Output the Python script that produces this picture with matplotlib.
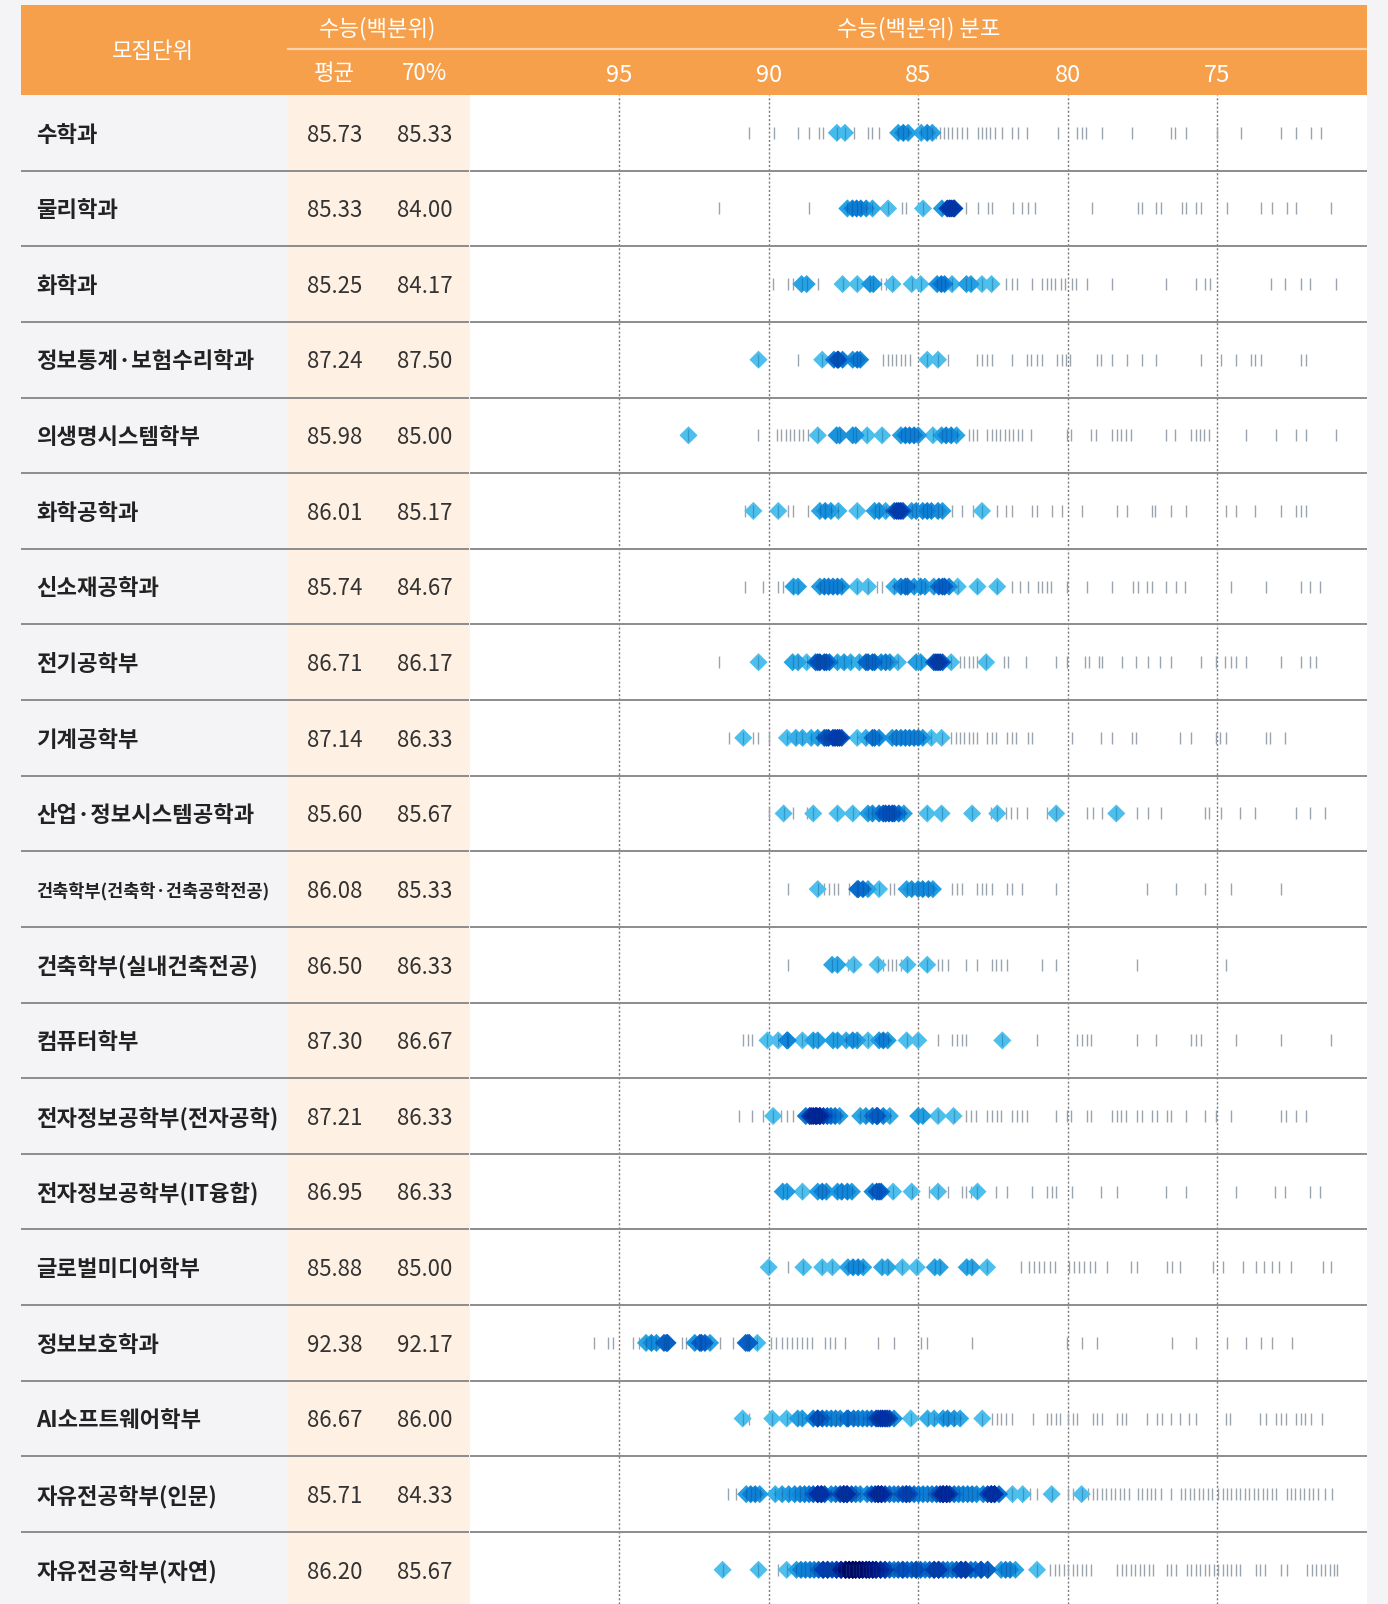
import numpy as np
import matplotlib
matplotlib.use("Agg")
import matplotlib.pyplot as plt

plt.rcParams["font.family"] = ["Noto Sans CJK KR", "DejaVu Sans"]

# ---- table data ----
departments = ["수학과", "물리학과", "화학과", "정보통계·보험수리학과", "의생명시스템학부",
               "화학공학과", "신소재공학과", "전기공학부", "기계공학부", "산업·정보시스템공학과",
               "건축학부(건축학·건축공학전공)", "건축학부(실내건축전공)", "컴퓨터학부",
               "전자정보공학부(전자공학)", "전자정보공학부(IT융합)", "글로벌미디어학부",
               "정보보호학과", "AI소프트웨어학부", "자유전공학부(인문)", "자유전공학부(자연)"]
mean_scores = [85.73, 85.33, 85.25, 87.24, 85.98, 86.01, 85.74, 86.71, 87.14, 85.60,
               86.08, 86.50, 87.30, 87.21, 86.95, 85.88, 92.38, 86.67, 85.71, 86.20]
p70_scores = [85.33, 84.00, 84.17, 87.50, 85.00, 85.17, 84.67, 86.17, 86.33, 85.67,
              85.33, 86.33, 86.67, 86.33, 86.33, 85.00, 92.17, 86.00, 84.33, 85.67]
axis_ticks = [95, 90, 85, 80, 75]

# ---- distribution: accepted (diamond) and other applicants (tick) ----
math_acc = [87.72, 87.45, 85.67, 85.50, 85.34, 84.90, 84.70, 84.53]
math_rej = [90.65, 89.83, 89.02, 88.66, 88.33, 88.17, 87.16, 86.67, 86.53, 86.32, 84.42, 84.28,
            84.14, 84.00, 83.86, 83.72, 83.55, 83.38, 83.01, 82.87, 82.73, 82.59, 82.45, 82.20,
            81.86, 81.68, 81.36, 80.34, 79.68, 79.54, 79.39, 78.85, 77.84, 76.55, 76.41, 76.04,
            75.00, 74.20, 72.86, 72.37, 71.88, 71.54]
phys_acc = [87.37, 87.20, 87.06, 86.92, 86.74, 86.53, 86.01, 84.84, 84.21, 84.03, 83.96, 83.90,
            83.83, 83.79]
phys_rej = [91.66, 88.66, 85.54, 85.40, 83.39, 83.01, 82.66, 82.52, 81.82, 81.54, 81.33, 81.09,
            79.19, 77.67, 77.53, 77.04, 76.87, 76.20, 76.06, 75.70, 75.56, 74.69, 73.53, 73.17,
            72.68, 72.36, 71.21]
chem_acc = [88.90, 88.73, 87.53, 87.04, 86.61, 86.50, 85.86, 85.22, 84.92, 84.37, 84.23, 84.12,
            83.87, 83.39, 83.24, 82.87, 82.55]
chem_rej = [89.85, 89.36, 89.20, 88.35, 86.24, 86.09, 82.07, 81.85, 81.70, 81.19, 80.85, 80.71,
            80.56, 80.42, 80.24, 80.09, 79.85, 79.73, 79.36, 78.53, 76.73, 75.73, 75.41, 75.24,
            73.22, 72.73, 72.22, 71.90, 71.05]
stat_acc = [90.34, 88.21, 87.82, 87.70, 87.67, 87.53, 87.19, 87.04, 86.94, 84.70, 84.34]
stat_rej = [89.02, 86.17, 86.02, 85.87, 85.73, 85.58, 85.43, 85.29, 84.02, 83.02, 82.87, 82.70,
            82.55, 81.88, 81.37, 81.22, 81.04, 80.87, 80.36, 80.21, 80.06, 79.92, 79.04, 78.89,
            78.53, 78.02, 77.53, 77.06, 75.56, 74.87, 74.39, 73.87, 73.73, 73.55, 72.19, 72.05]
bio_acc = [92.68, 88.36, 87.73, 87.63, 87.19, 87.09, 86.71, 86.21, 85.58, 85.43, 85.29, 85.14,
           85.00, 84.51, 84.22, 84.07, 83.90, 83.72]
bio_rej = [90.37, 89.72, 89.58, 89.43, 89.28, 89.14, 88.99, 88.84, 88.70, 83.31, 83.17, 83.02,
           82.70, 82.55, 82.41, 82.26, 82.11, 81.97, 81.82, 81.67, 81.53, 81.22, 80.02, 79.90,
           79.22, 79.07, 78.51, 78.37, 78.22, 78.07, 77.90, 76.73, 76.41, 75.88, 75.73, 75.59,
           75.44, 75.27, 74.05, 73.04, 72.38, 72.05, 71.05]
cheng_acc = [90.51, 89.68, 88.29, 88.11, 87.92, 87.67, 87.04, 86.46, 86.31, 86.09, 85.80, 85.72,
             85.65, 85.58, 85.51, 85.22, 85.07, 84.85, 84.70, 84.56, 84.34, 84.19, 82.87]
cheng_rej = [90.80, 89.34, 89.20, 88.68, 83.87, 83.53, 83.17, 82.36, 82.07, 81.88, 81.19, 81.04,
             80.53, 80.21, 79.54, 78.37, 78.02, 77.20, 77.09, 76.55, 76.04, 74.72, 74.39, 73.73,
             72.88, 72.37, 72.22, 72.05]
mat_acc = [89.17, 89.02, 88.29, 88.14, 88.00, 87.85, 87.70, 87.56, 87.04, 86.68, 85.80, 85.58,
           85.43, 85.36, 85.14, 84.92, 84.78, 84.48, 84.31, 84.19, 84.12, 83.97, 83.68, 83.02, 82.36]
mat_rej = [90.80, 90.19, 89.68, 89.53, 86.39, 86.21, 81.85, 81.59, 81.34, 81.00, 80.85, 80.71,
           80.56, 80.02, 79.36, 78.51, 77.83, 77.65, 77.34, 77.20, 76.73, 76.39, 76.07, 74.56,
           73.39, 72.22, 71.90, 71.56]
elec_acc = [90.34, 89.20, 89.02, 88.73, 88.43, 88.36, 88.29, 88.14, 88.07, 87.97, 87.70, 87.48,
            87.26, 86.97, 86.75, 86.68, 86.53, 86.46, 86.24, 86.09, 85.95, 85.68, 85.07, 84.92,
            84.48, 84.41, 84.34, 84.27, 84.19, 83.90, 82.73]
elec_rej = [91.65, 83.61, 83.46, 83.31, 83.17, 83.02, 82.14, 82.00, 81.41, 80.39, 80.02, 79.44,
            79.29, 78.95, 78.85, 78.19, 77.71, 77.31, 76.92, 76.55, 75.56, 75.05, 74.75, 74.53,
            74.39, 74.05, 72.88, 72.22, 71.90, 71.71]
mech_acc = [90.85, 89.39, 89.09, 88.87, 88.58, 88.36, 88.14, 88.07, 88.00, 87.85, 87.78, 87.70,
            87.63, 87.56, 87.04, 86.75, 86.53, 86.46, 86.31, 85.87, 85.73, 85.58, 85.43, 85.29,
            85.14, 85.00, 84.85, 84.56, 84.22]
mech_rej = [91.33, 90.51, 90.37, 90.00, 83.90, 83.75, 83.61, 83.46, 83.31, 83.17, 83.02, 82.70,
            82.55, 82.41, 82.03, 81.88, 81.73, 81.34, 81.19, 79.87, 78.88, 78.53, 77.86, 77.71,
            76.24, 75.89, 75.05, 74.90, 74.72, 73.39, 73.25, 72.73]
ind_acc = [89.50, 88.51, 87.70, 87.19, 86.68, 86.53, 86.31, 86.17, 86.09, 85.98, 85.87, 85.80,
           85.65, 85.48, 84.70, 84.22, 83.20, 82.36, 80.39, 78.38]
ind_rej = [90.00, 89.20, 88.73, 82.58, 82.07, 81.89, 81.70, 81.37, 80.68, 79.36, 79.17, 78.85,
           77.68, 77.31, 76.90, 75.41, 75.27, 74.87, 74.24, 73.76, 72.38, 71.90, 71.39]
arch_acc = [88.36, 87.04, 87.00, 86.85, 86.68, 86.31, 85.39, 85.22, 85.00, 84.85, 84.66, 84.51]
arch_rej = [89.36, 88.14, 87.97, 87.82, 87.67, 87.30, 85.95, 85.80, 83.87, 83.72, 83.53, 83.02,
            82.87, 82.73, 82.55, 82.03, 81.85, 81.53, 80.39, 77.34, 76.39, 75.41, 74.56, 72.88]
intr_acc = [87.88, 87.70, 87.16, 86.36, 85.36, 84.70]
intr_rej = [89.36, 87.34, 86.17, 86.02, 85.87, 85.73, 85.58, 84.34, 84.19, 84.02, 83.39, 83.02,
            82.55, 82.41, 82.22, 82.04, 80.87, 80.39, 77.68, 74.72]
comp_acc = [90.04, 89.68, 89.39, 89.36, 88.87, 88.51, 88.36, 87.85, 87.70, 87.41, 87.19, 87.04,
            86.68, 86.31, 86.17, 86.02, 85.39, 85.00, 82.19]
comp_rej = [90.85, 90.70, 90.56, 84.34, 83.87, 83.72, 83.53, 83.39, 81.02, 79.70, 79.54, 79.36,
            79.22, 77.68, 77.06, 75.88, 75.73, 75.56, 74.39, 72.88, 71.21]
ee_acc = [89.85, 88.76, 88.63, 88.58, 88.51, 88.43, 88.39, 88.29, 88.29, 88.17, 88.04, 87.92,
          87.78, 87.63, 86.94, 86.75, 86.53, 86.39, 86.36, 86.17, 85.95, 85.00, 84.85, 84.34, 83.82]
ee_rej = [90.99, 90.56, 90.19, 89.58, 89.39, 89.20, 83.39, 83.24, 83.06, 82.70, 82.55, 82.36,
          82.22, 81.85, 81.70, 81.53, 81.37, 80.39, 80.02, 79.90, 79.36, 79.22, 78.51, 78.37,
          78.22, 78.05, 77.68, 77.53, 77.17, 77.02, 76.70, 76.55, 76.04, 75.41, 75.05, 74.56,
          72.88, 72.70, 72.37, 72.05]
it_acc = [89.53, 89.39, 88.87, 88.36, 88.21, 88.07, 87.70, 87.56, 87.37, 87.22, 86.53, 86.39,
          86.31, 86.24, 85.84, 85.22, 84.34, 83.02]
it_rej = [84.63, 84.02, 83.53, 83.39, 83.24, 82.41, 82.04, 81.19, 80.71, 80.53, 80.39, 79.87,
          78.88, 78.37, 76.73, 76.04, 74.39, 73.07, 72.73, 71.90, 71.56]
media_acc = [90.00, 88.84, 88.21, 87.87, 87.35, 87.18, 87.01, 86.84, 86.21, 86.02, 85.53, 85.05,
             84.45, 84.28, 83.38, 83.21, 82.70]
media_rej = [89.35, 81.55, 81.30, 81.13, 80.96, 80.78, 80.61, 80.44, 79.97, 79.80, 79.62, 79.45,
             79.25, 79.08, 78.70, 77.88, 77.68, 76.69, 76.52, 76.26, 75.15, 74.81, 74.16, 73.70,
             73.45, 73.19, 72.94, 72.54, 71.48, 71.19]
sec_acc = [94.10, 93.92, 93.75, 93.50, 93.42, 93.38, 92.47, 92.30, 92.25, 92.13, 91.96, 90.77,
           90.70, 90.65, 90.38]
sec_rej = [95.84, 95.38, 95.20, 94.52, 94.35, 92.90, 92.75, 91.62, 91.20, 89.91, 89.74, 89.57,
           89.40, 89.23, 89.06, 88.89, 88.72, 88.55, 88.12, 87.95, 87.78, 87.44, 86.33, 85.82,
           84.91, 84.71, 83.21, 80.02, 79.51, 79.04, 76.52, 75.70, 74.68, 74.04, 73.53, 73.19, 72.51]
ai_acc = [90.87, 89.88, 89.40, 89.03, 88.88, 88.51, 88.36, 88.36, 88.21, 88.06, 87.91, 87.76,
          87.61, 87.38, 87.34, 87.16, 87.01, 86.86, 86.71, 86.56, 86.41, 86.34, 86.26, 86.19,
          86.11, 86.04, 85.96, 85.81, 85.25, 84.69, 84.47, 84.17, 84.02, 83.80, 83.60, 82.86]
ai_rej = [90.67, 82.53, 82.38, 82.23, 82.08, 81.85, 81.18, 80.70, 80.55, 80.40, 80.25, 79.99,
          79.84, 79.69, 79.16, 79.01, 78.86, 78.34, 78.19, 78.04, 77.37, 77.03, 76.85, 76.55,
          76.25, 75.95, 75.70, 74.72, 74.57, 73.56, 73.38, 73.03, 72.88, 72.71, 72.36, 72.21,
          72.06, 71.88, 71.51]
libh_acc = [90.75, 90.60, 90.45, 90.30, 89.78, 89.55, 89.33, 89.13, 88.95, 88.80, 88.65, 88.51,
            88.36, 88.36, 88.24, 88.24, 88.13, 87.91, 87.76, 87.61, 87.49, 87.49, 87.38, 87.38,
            87.23, 87.09, 86.94, 86.71, 86.56, 86.44, 86.34, 86.34, 86.23, 86.23, 86.11, 85.96,
            85.81, 85.67, 85.52, 85.40, 85.40, 85.29, 85.14, 84.99, 84.84, 84.69, 84.54, 84.39,
            84.27, 84.17, 84.17, 84.05, 84.05, 83.95, 83.80, 83.65, 83.50, 83.35, 83.20, 83.05,
            82.83, 82.68, 82.56, 82.56, 82.45, 82.45, 82.30, 81.85, 81.51, 80.54, 79.54]
libh_rej = [91.35, 91.08, 81.26, 81.03, 79.99, 79.84, 79.31, 79.16, 79.01, 78.86, 78.71, 78.57,
            78.42, 78.27, 78.12, 77.97, 77.67, 77.52, 77.37, 77.22, 77.07, 76.88, 76.55, 76.22,
            76.07, 75.92, 75.77, 75.62, 75.47, 75.32, 75.17, 74.98, 74.83, 74.68, 74.53, 74.38,
            74.23, 74.08, 73.93, 73.78, 73.63, 73.48, 73.33, 73.18, 73.03, 72.69, 72.54, 72.39,
            72.24, 72.09, 71.94, 71.79, 71.64, 71.39, 71.17]
libs_acc = [91.54, 90.34, 89.40, 89.07, 88.92, 88.77, 88.62, 88.48, 88.33, 88.18, 88.18, 88.03,
            88.03, 87.88, 87.73, 87.73, 87.58, 87.58, 87.43, 87.43, 87.43, 87.31, 87.31, 87.31,
            87.19, 87.19, 87.19, 87.09, 87.09, 86.97, 86.97, 86.97, 86.86, 86.86, 86.74, 86.74,
            86.64, 86.64, 86.52, 86.52, 86.41, 86.41, 86.26, 86.26, 86.11, 86.11, 85.96, 85.81,
            85.67, 85.52, 85.52, 85.37, 85.22, 85.07, 85.07, 84.92, 84.77, 84.62, 84.47, 84.47,
            84.32, 84.32, 84.17, 84.02, 83.87, 83.72, 83.57, 83.57, 83.42, 83.42, 83.24, 83.09,
            82.90, 82.90, 82.68, 82.68, 82.23, 82.08, 81.93, 81.75, 81.03]
libs_rej = [90.33, 89.70, 80.58, 80.43, 80.28, 80.13, 79.99, 79.84, 79.69, 79.54, 79.39, 79.24,
            78.34, 78.19, 78.04, 77.89, 77.74, 77.59, 77.44, 77.29, 77.14, 76.70, 76.55, 76.40,
            76.02, 75.87, 75.72, 75.58, 75.43, 75.28, 75.13, 74.98, 74.83, 74.68, 74.53, 74.38,
            74.23, 73.71, 73.56, 73.41, 72.88, 72.69, 71.99, 71.84, 71.69, 71.54, 71.39, 71.24,
            71.09, 70.99]

accepted = [math_acc, phys_acc, chem_acc, stat_acc, bio_acc, cheng_acc, mat_acc, elec_acc,
            mech_acc, ind_acc, arch_acc, intr_acc, comp_acc, ee_acc, it_acc, media_acc,
            sec_acc, ai_acc, libh_acc, libs_acc]
others = [math_rej, phys_rej, chem_rej, stat_rej, bio_rej, cheng_rej, mat_rej, elec_rej,
          mech_rej, ind_rej, arch_rej, intr_rej, comp_rej, ee_rej, it_rej, media_rej,
          sec_rej, ai_rej, libh_rej, libs_rej]

# ---- layout (pixels of the 1388x1604 canvas) ----
W, H = 1388, 1604
LEFT, RIGHT = 21, 1367
HEAD_TOP, HEAD_BOT = 5, 95
SPLIT = 469.5
BEIGE_X = 288.4
ROW_H = 75.63
ORANGE = "#F7A04B"
BEIGE = "#FEF0E2"
LINE = "#8c8c8c"
TICK_GREY = "#9aa4ae"
LIGHT_BLUE = np.array([0.30, 0.75, 0.93])
HALF_W = 0.29   # half width of a diamond in score units
DIAMOND = [(0, 1), (1, 0), (0, -1), (-1, 0)]
TXT_DY = 0.03   # small downward nudge of row text

n = len(departments)
y_bottom = -0.5 + (H - HEAD_BOT) / ROW_H

fig = plt.figure(figsize=(W / 100, H / 100), dpi=100, facecolor="#f4f4f6")

# header band
hdr = fig.add_axes([LEFT / W, 1 - HEAD_BOT / H, (RIGHT - LEFT) / W, (HEAD_BOT - HEAD_TOP) / H])
hdr.set_xlim(LEFT, RIGHT)
hdr.set_ylim(HEAD_BOT, HEAD_TOP)
hdr.axis("off")
hdr.add_patch(plt.Rectangle((LEFT, HEAD_TOP), RIGHT - LEFT, HEAD_BOT - HEAD_TOP, color=ORANGE))
hdr.plot([BEIGE_X, RIGHT], [49, 49], color="#fcd3ad", lw=1.6)
hkw = dict(color="white", fontsize=16, ha="center", va="center")
hdr.text(153, 51, "모집단위", **hkw)
hdr.text(378, 28.5, "수능(백분위)", **hkw)
hdr.text(334.5, 73.5, "평균", **hkw)
hdr.text(424.5, 73.5, "70%", **hkw)
hdr.text(918.5, 28.5, "수능(백분위) 분포", **hkw)

# left table
tab = fig.add_axes([LEFT / W, 0, (SPLIT - LEFT) / W, (H - HEAD_BOT) / H])
tab.set_xlim(LEFT, SPLIT)
tab.set_ylim(y_bottom, -0.5)
tab.axis("off")
tab.axvspan(BEIGE_X, SPLIT, color=BEIGE, zorder=0)
for i, name in enumerate(departments):
    size = 12.6 if len(name) > 14 else 16
    tab.text(36.5, i + TXT_DY, name, fontsize=size, fontweight="bold", color="#222222",
             ha="left", va="center")
    tab.text(334.5, i + TXT_DY, f"{mean_scores[i]:.2f}", fontsize=16, color="#333333",
             ha="center", va="center")
    tab.text(424.5, i + TXT_DY, f"{p70_scores[i]:.2f}", fontsize=16, color="#333333",
             ha="center", va="center")
for i in range(n - 1):
    tab.axhline(i + 0.5, color=LINE, lw=1.4, zorder=1)

# distribution strip
ax = fig.add_axes([SPLIT / W, 0, (RIGHT - SPLIT) / W, (H - HEAD_BOT) / H])
ax.set_xlim(100, 70)
ax.set_ylim(y_bottom, -0.5)
for s in ax.spines.values():
    s.set_visible(False)
ax.set_yticks([])
ax.xaxis.tick_top()
ax.set_xticks(axis_ticks)
ax.set_xticklabels([str(t) for t in axis_ticks])
ax.tick_params(axis="x", length=0, pad=5.5, labelsize=17, labelcolor="white")
ax.grid(axis="x", color="#7a7a7a", lw=1.0, linestyle=(0, (1.5, 1.5)), zorder=1)
ax.set_axisbelow(True)
for i in range(n - 1):
    ax.axhline(i + 0.5, color=LINE, lw=1.4, zorder=1)

for i in range(n):
    rej = np.array(others[i])
    ax.plot(rej, np.full(len(rej), i), ls="none", marker="|", ms=8.3, mew=1.0,
            color=TICK_GREY, zorder=2)

    acc = np.array(accepted[i])
    dist = np.abs(acc[:, None] - acc[None, :])
    depth = np.clip(1 - dist / HALF_W, 0, None).sum(axis=1)
    cols = LIGHT_BLUE[None, :] ** (depth[:, None] ** 1.3)
    order = np.argsort(depth)
    ax.scatter(acc[order], np.full(len(acc), i), s=170, marker=DIAMOND,
               c=cols[order], linewidths=0, zorder=3)
    ax.plot(acc, np.full(len(acc), i), ls="none", marker="|", ms=8.3, mew=0.9,
            color="#0b3d75", alpha=0.3, zorder=4)

fig.savefig("out.png", dpi=100, facecolor=fig.get_facecolor())
